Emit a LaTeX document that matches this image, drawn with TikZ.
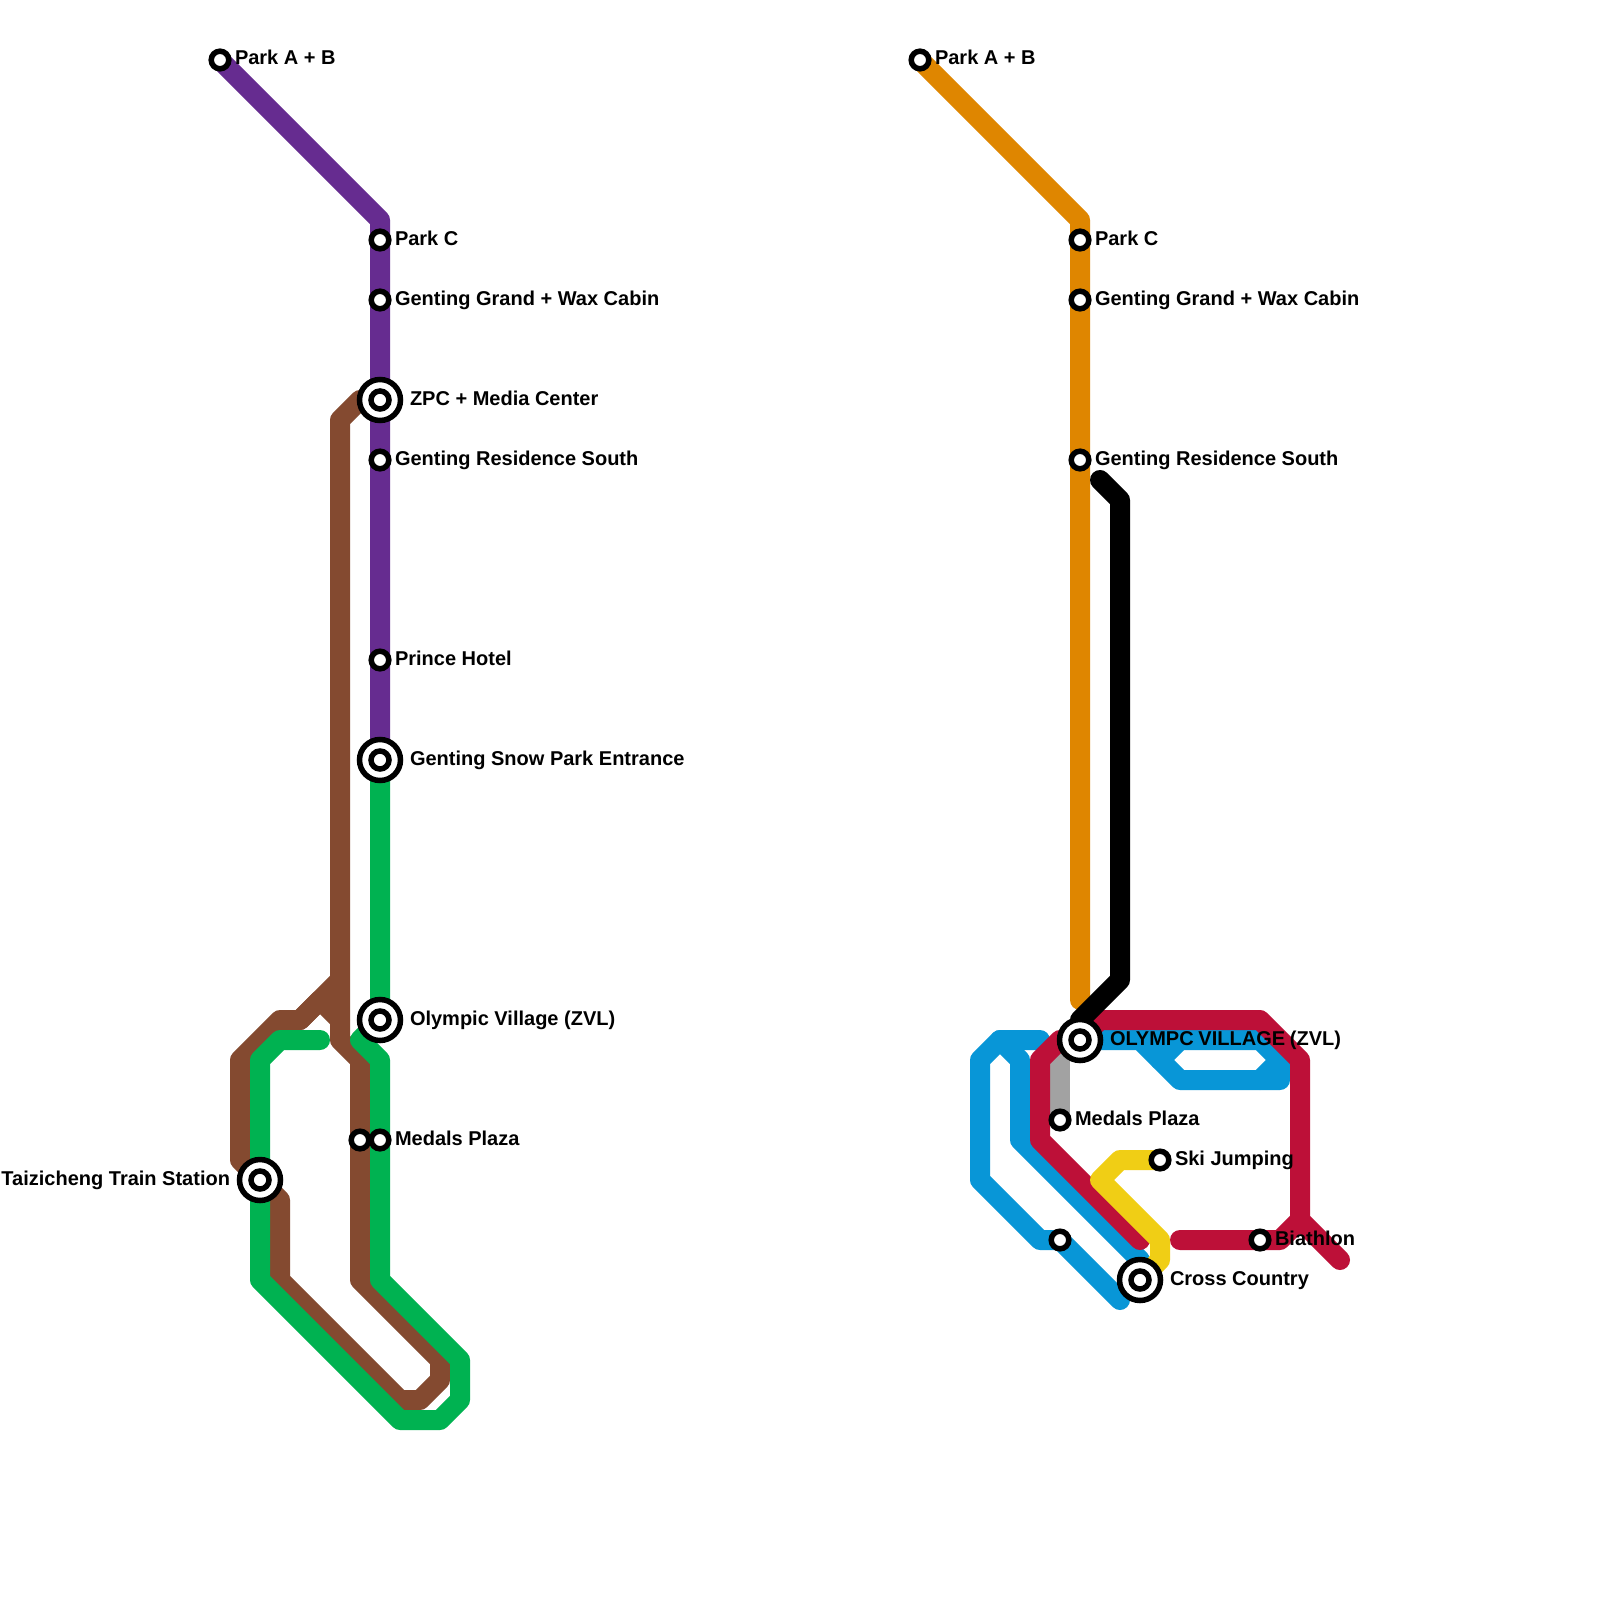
\documentclass[tikz,border=0pt]{standalone}
\usepackage{fontspec}
\setmainfont{Liberation Sans}
\pgfdeclarelayer{bg}
\pgfsetlayers{bg,main}
\definecolor{cpurple}{HTML}{662C90}
\definecolor{cbrown}{HTML}{844A30}
\definecolor{cgreen}{HTML}{00B251}
\definecolor{corange}{HTML}{DF8600}
\definecolor{cblue}{HTML}{0896D7}
\definecolor{cred}{HTML}{BD1038}
\definecolor{cyellow}{HTML}{F0CE15}
\definecolor{cgray}{HTML}{A2A2A2}
\tikzset{
  x=1pt,y=-1pt,
  metro/.style={draw=#1,line width=20pt,line cap=round,line join=round},
  stn/.style={circle,draw=black,fill=white,line width=5.5pt,minimum size=17.6pt,inner sep=0pt,outer sep=0pt},
  hub/.style={circle,draw=black,fill=white,line width=5.5pt,minimum size=41pt,inner sep=0pt,outer sep=0pt,
    path picture={\draw[black,line width=5.5pt] (path picture bounding box.center) circle (9pt);}},
  lab/.style={anchor=base west,inner sep=0pt,outer sep=0pt,font=\fontsize{20pt}{24pt}\selectfont\bfseries,text=black},
  labr/.style={lab,anchor=base east},
}
\begin{document}
\begin{tikzpicture}
\useasboundingbox (0,0) rectangle (1600,1600);
% left map stations
\node[stn] (lA) at (220,60) {};
\node[stn] (lC) at (380,240) {};
\node[stn] (lG) at (380,300) {};
\node[hub] (lZ) at (380,400) {};
\node[stn] (lR) at (380,460) {};
\node[stn] (lP) at (380,660) {};
\node[hub] (lS) at (380,760) {};
\node[hub] (lO) at (380,1020) {};
\node[stn] (lM) at (380,1140) {};
\node[stn] (lN) at (360,1140) {};
\node[hub] (lT) at (260,1180) {};
\coordinate (gEnd) at (320,1040);
% right map stations
\node[stn] (rA) at (920,60) {};
\node[stn] (rC) at (1080,240) {};
\node[stn] (rG) at (1080,300) {};
\node[stn] (rR) at (1080,460) {};
\node[hub] (rO) at (1080,1040) {};
\node[stn] (rM) at (1060,1120) {};
\node[stn] (rK) at (1160,1160) {};
\node[stn] (rB) at (1260,1240) {};
\node[hub] (rX) at (1140,1280) {};
\node[stn] (rU) at (1060,1240) {};
\coordinate (oEnd) at (1080,1000);
\coordinate (kTop) at (1100,480);
\coordinate (kEnd) at (1120,980);
\coordinate (gTop) at (1060,1060);
\coordinate (r1) at (1140,1240);
\coordinate (r2) at (1180,1240);
\coordinate (r3) at (1340,1260);
\coordinate (b1) at (1120,1300);
\coordinate (b2) at (1040,1040);
\coordinate (b3) at (1140,1260);
% labels
\node[lab] (tlA) at (235,65) {Park A + B};
\node[lab] (tlC) at (395,245) {Park C};
\node[lab] (tlG) at (395,305) {Genting Grand + Wax Cabin};
\node[lab] (tlZ) at (410,405) {ZPC + Media Center};
\node[lab] (tlR) at (395,465) {Genting Residence South};
\node[lab] (tlP) at (395,665) {Prince Hotel};
\node[lab] (tlS) at (410,765) {Genting Snow Park Entrance};
\node[lab] (tlO) at (410,1025) {Olympic Village (ZVL)};
\node[lab] (tlM) at (395,1145) {Medals Plaza};
\node[labr] (tlT) at (230,1185) {Taizicheng Train Station};
\node[lab] (trA) at (935,65) {Park A + B};
\node[lab] (trC) at (1095,245) {Park C};
\node[lab] (trG) at (1095,305) {Genting Grand + Wax Cabin};
\node[lab] (trR) at (1095,465) {Genting Residence South};
\node[lab] (trO) at (1110,1045) {OLYMPC\kern-0.8pt{} VILLAGE\kern-0.8pt{} (ZVL)};
\node[lab] (trM) at (1075,1125) {Medals Plaza};
\node[lab] (trK) at (1175,1165) {Ski Jumping};
\node[lab] (trB) at (1275,1245) {Biathlon};
\node[lab] (trX) at (1170,1285) {Cross Country};
\begin{pgfonlayer}{bg}
\fill[white] (0,0) rectangle (1600,1600);
% left map lines
\draw[metro=cbrown] (lZ.center) -- (360,400) -- (340,420) -- (340,1040) -- (360,1060) -- (360,1280) -- (440,1360) -- (440,1380) -- (420,1400) -- (400,1400) -- (280,1280) -- (280,1200) -- (lT.center) -- (240,1160) -- (240,1060) -- (280,1020) -- (300,1020) -- (340,980);
\draw[metro=cbrown] (300,1020) -- (320,1000) -- (340,1020);
\draw[metro=cpurple] (lA.center) -- (380,220) -- (lC.center) -- (lG.center) -- (lZ.center) -- (lR.center) -- (lP.center) -- (lS.center);
\draw[metro=cgreen] (lS.center) -- (lO.center) -- (360,1040) -- (380,1060) -- (lM.center) -- (380,1280) -- (460,1360) -- (460,1400) -- (440,1420) -- (400,1420) -- (260,1280) -- (lT.center) -- (260,1060) -- (280,1040) -- (gEnd);
% right map lines
\draw[metro=cblue] (b1) -- (rU.center) -- (1040,1240) -- (980,1180) -- (980,1060) -- (1000,1040) -- (b2);
\draw[metro=cblue] (1000,1040) -- (1020,1060) -- (1020,1140) -- (b3);
\draw[metro=cblue] (rO.center) -- (1260,1040) -- (1280,1060) -- (1280,1080) -- (1180,1080) -- (1140,1040);
\draw[metro=cblue] (1160,1060) -- (1180,1040);
\draw[metro=cblue] (1280,1060) -- (1260,1080);
\draw[metro=cgray] (gTop) -- (rM.center);
\draw[metro=cred] (r1) -- (1040,1140) -- (1040,1060) -- (1060,1040) -- (rO.center) -- (1100,1020) -- (1260,1020) -- (1300,1060) -- (1300,1220) -- (r3);
\draw[metro=cred] (r2) -- (rB.center) -- (1280,1240) -- (1300,1220);
\draw[metro=cyellow] (rK.center) -- (1120,1160) -- (1100,1180) -- (1160,1240) -- (1160,1260) -- (rX.center);
\draw[metro=corange] (rA.center) -- (1080,220) -- (rC.center) -- (rG.center) -- (rR.center) -- (oEnd);
\draw[metro=black] (kTop) -- (1120,500) -- (kEnd) -- (1080,1020) -- (rO.center);
\end{pgfonlayer}
\end{tikzpicture}
\end{document}
